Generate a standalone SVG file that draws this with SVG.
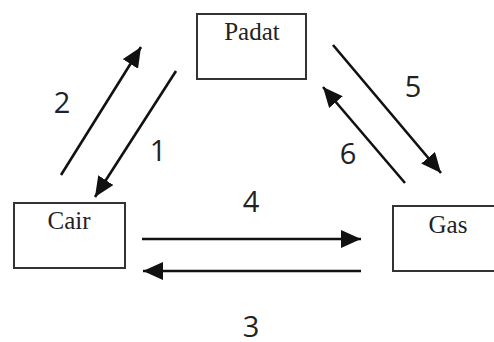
<svg xmlns="http://www.w3.org/2000/svg" width="494" height="342" viewBox="0 0 494 342">
<defs>
<style>
.box{fill:#fff;stroke:#333;stroke-width:2}
.lbl{font-family:"Liberation Serif","Times New Roman",serif;font-size:25px;fill:#222;text-anchor:middle}
.num{font-family:"Open Sans","Liberation Sans",sans-serif;font-size:29px;fill:#222;text-anchor:middle}
.arr{stroke:#111;stroke-width:2.6;fill:none;marker-end:url(#ah)}
</style>
<marker id="ah" viewBox="0 0 20 18" refX="20" refY="9" markerWidth="20" markerHeight="18" markerUnits="userSpaceOnUse" orient="auto">
<path d="M0,0 L20,9 L0,18 z" fill="#111"/>
</marker>
</defs>
<rect width="494" height="342" fill="#fff"/>
<g id="padat"><rect class="box" x="197" y="14" width="109" height="65"/><text class="lbl" x="252" y="40">Padat</text></g>
<g id="cair"><rect class="box" x="14" y="203" width="111" height="65"/><text class="lbl" x="69" y="229">Cair</text></g>
<g id="gas"><rect class="box" x="393" y="206" width="102" height="65"/><text class="lbl" x="448" y="233">Gas</text></g>
<g id="connectors">
<line class="arr" x1="61" y1="175" x2="141" y2="47"/>
<line class="arr" x1="176" y1="71" x2="95" y2="197"/>
<line class="arr" x1="333" y1="45" x2="441" y2="173"/>
<line class="arr" x1="405" y1="183" x2="323" y2="87"/>
<line class="arr" x1="142" y1="239" x2="361" y2="239"/>
<line class="arr" x1="361" y1="271" x2="143" y2="271"/>
</g>
<g id="labels">
<text class="num" x="62" y="113">2</text>
<text class="num" x="158" y="161">1</text>
<text class="num" x="413" y="97">5</text>
<text class="num" x="348" y="164">6</text>
<text class="num" x="251" y="212">4</text>
<text class="num" x="251" y="337">3</text>
</g>
</svg>
